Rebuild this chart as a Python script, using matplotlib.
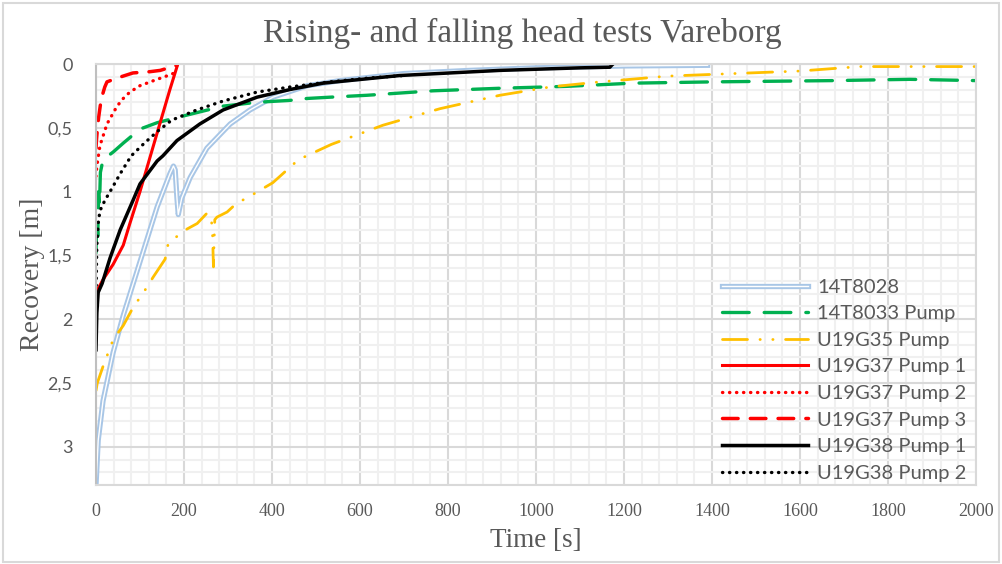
import matplotlib
matplotlib.use('Agg')
import matplotlib.pyplot as plt
import matplotlib.patheffects as pe
from matplotlib.ticker import MultipleLocator, FuncFormatter
from matplotlib.patches import Rectangle

# Recovery curves, time in seconds, recovery in metres
t_14t8028 = [0, 5, 16, 39, 62, 100, 139, 168, 176, 180, 184, 187, 195, 214, 252, 305, 350, 402,
             480, 555, 700, 850, 1000, 1200, 1390]
y_14t8028 = [3.3, 2.95, 2.64, 2.26, 1.97, 1.55, 1.12, 0.86, 0.80, 0.83, 1.05, 1.18, 1.05, 0.89,
             0.66, 0.47, 0.36, 0.26, 0.17, 0.13, 0.075, 0.05, 0.03, 0.015, 0.01]

t_14t8033 = [0, 2, 4, 6, 8, 10, 16, 39, 62, 100, 139, 184, 207, 289, 366, 441, 480, 532, 616,
             766, 918, 1070, 1220, 1402, 1675, 1850, 2000]
y_14t8033 = [1.48, 1.2, 1.35, 1.0, 1.1, 0.85, 0.75, 0.69, 0.62, 0.51, 0.46, 0.42, 0.40, 0.33,
             0.30, 0.285, 0.27, 0.26, 0.245, 0.21, 0.19, 0.175, 0.15, 0.14, 0.13, 0.12, 0.13]

t_u19g35 = [0, 3, 16, 39, 62, 84, 110, 130, 157, 164, 198, 230, 252, 262, 265, 267, 268, 270,
            275, 298, 320, 343, 402, 460, 535, 652, 782, 918, 1032, 1145, 1198, 1298, 1448,
            1600, 1736, 1866, 2000]
y_u19g35 = [2.56, 2.5, 2.37, 2.16, 2.05, 1.91, 1.78, 1.67, 1.53, 1.41, 1.31, 1.25, 1.17, 1.2,
            1.35, 1.59, 1.45, 1.22, 1.2, 1.16, 1.09, 1.05, 0.93, 0.75, 0.63, 0.48, 0.35, 0.245,
            0.18, 0.14, 0.125, 0.095, 0.075, 0.055, 0.02, 0.02, 0.02]

t_u19g37_1 = [0, 16, 39, 62, 77, 100, 139, 168, 186]
y_u19g37_1 = [1.79, 1.69, 1.57, 1.42, 1.25, 1.0, 0.54, 0.2, 0.0]

t_u19g37_2 = [0, 2, 9, 25, 48, 62, 77, 100, 139, 168, 185]
y_u19g37_2 = [0.88, 0.8, 0.64, 0.47, 0.33, 0.27, 0.22, 0.17, 0.12, 0.085, 0.06]

t_u19g37_3 = [0, 1, 3, 6, 10, 14, 20, 25, 48, 84, 123, 146, 184]
y_u19g37_3 = [0.66, 0.6, 0.52, 0.42, 0.32, 0.25, 0.18, 0.14, 0.11, 0.07, 0.06, 0.05, 0.01]

t_u19g38_1 = [0, 2, 5, 14, 32, 55, 84, 100, 139, 152, 184, 236, 289, 366, 441, 516, 691, 918,
              1100, 1168, 1172, 1175]
y_u19g38_1 = [2.24, 1.95, 1.79, 1.72, 1.52, 1.3, 1.07, 0.94, 0.76, 0.72, 0.6, 0.47, 0.36, 0.26,
              0.2, 0.15, 0.09, 0.05, 0.03, 0.025, 0.01, 0.0]

t_u19g38_2 = [0, 1, 2, 5, 9, 20, 32, 55, 80, 107, 139, 172, 229, 289, 366, 441, 532, 620, 700]
y_u19g38_2 = [1.9, 1.6, 1.42, 1.25, 1.15, 1.07, 1.0, 0.86, 0.72, 0.63, 0.53, 0.44, 0.36, 0.29,
              0.22, 0.18, 0.14, 0.11, 0.09]

grey = '#595959'

fig = plt.figure(figsize=(10.02, 5.64), dpi=100)
ax = fig.add_axes([0.0958, 0.14, 0.8782, 0.7465])

# light blue double line
ax.plot(t_14t8028, y_14t8028, color='white', lw=1.0, label='14T8028',
        path_effects=[pe.Stroke(linewidth=3.8, foreground='#a8c6e6'), pe.Normal()])
ax.plot(t_14t8033, y_14t8033, color='#00b050', lw=2.4, dashes=(8, 4.5),
        dash_capstyle='round', label='14T8033 Pump')
ax.plot(t_u19g35, y_u19g35, color='#ffc000', lw=2.0, dashes=(9, 4.5, 0.1, 4.5, 0.1, 4.5),
        dash_capstyle='round', label='U19G35 Pump')
ax.plot(t_u19g37_1, y_u19g37_1, color='#ff0000', lw=2.2, label='U19G37 Pump 1')
ax.plot(t_u19g37_2, y_u19g37_2, color='#ff0000', lw=2.4, dashes=(0.1, 2.0),
        dash_capstyle='round', label='U19G37 Pump 2')
ax.plot(t_u19g37_3, y_u19g37_3, color='#ff0000', lw=2.5, dashes=(4.5, 3.5),
        dash_capstyle='round', label='U19G37 Pump 3')
ax.plot(t_u19g38_1, y_u19g38_1, color='black', lw=2.5, label='U19G38 Pump 1')
ax.plot(t_u19g38_2, y_u19g38_2, color='black', lw=2.4, dashes=(0.1, 2.0),
        dash_capstyle='round', label='U19G38 Pump 2')

ax.set_xlim(0, 2000)
ax.set_ylim(3.3, 0)
ax.xaxis.set_major_locator(MultipleLocator(200))
ax.xaxis.set_minor_locator(MultipleLocator(40))
ax.yaxis.set_major_locator(MultipleLocator(0.5))
ax.yaxis.set_minor_locator(MultipleLocator(0.1))
ax.yaxis.set_major_formatter(FuncFormatter(lambda v, p: f'{v:g}'.replace('.', ',')))
ax.grid(which='major', color='#d9d9d9', lw=1.5)
ax.grid(which='minor', color='#f0f0f0', lw=1.5)
ax.set_axisbelow(True)
for s in ax.spines.values():
    s.set_color('#d9d9d9')
    s.set_linewidth(1.5)
ax.spines['left'].set_color('#bfbfbf')

ax.tick_params(which='both', length=0)
ax.tick_params(axis='x', pad=13, labelsize=13, labelcolor=grey)
ax.tick_params(axis='y', pad=17, labelsize=13, labelcolor=grey)
for lab in ax.get_xticklabels():
    lab.set_fontfamily('Liberation Serif')
for lab in ax.get_yticklabels():
    lab.set_fontfamily('Lato')

ax.set_xlabel('Time [s]', fontfamily='Liberation Serif', fontsize=19.5, color=grey, labelpad=6)
ax.set_ylabel('Recovery [m]', fontfamily='Liberation Serif', fontsize=20, color=grey, labelpad=2)
fig.text(0.521, 0.94, 'Rising- and falling head tests Vareborg', ha='center', va='center',
         fontfamily='Liberation Serif', fontsize=24, color=grey)

leg = ax.legend(loc='lower right', bbox_to_anchor=(1.01, -0.035), frameon=False,
                handlelength=4.3, handletextpad=0.45, labelspacing=0.47,
                prop={'family': 'Lato', 'size': 14.5})
for txt in leg.get_texts():
    txt.set_color(grey)

# chart frame
fig.patches.append(Rectangle((0.003, 0.004), 0.994, 0.99, transform=fig.transFigure,
                             fill=False, edgecolor='#d9d9d9', lw=1.5))

fig.savefig('out.png', dpi=100)
